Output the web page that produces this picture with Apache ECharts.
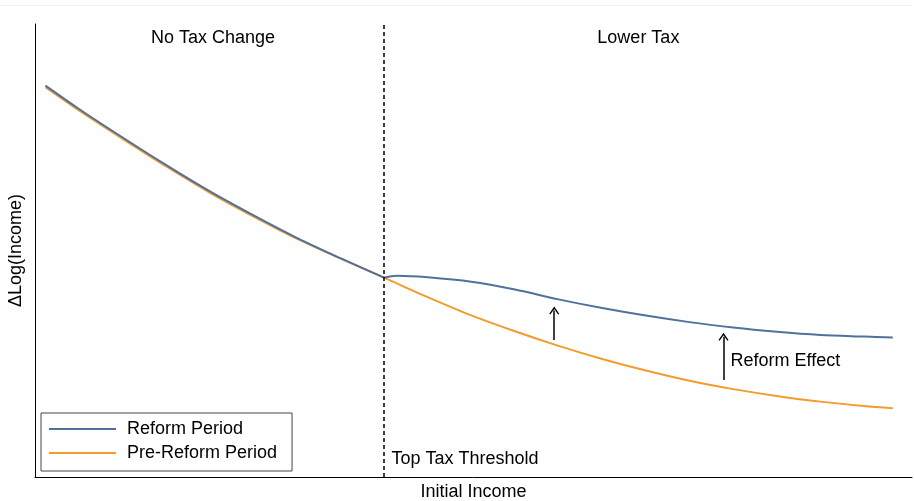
<!DOCTYPE html>
<html>
<head>
<meta charset="utf-8">
<script src="https://cdn.jsdelivr.net/npm/echarts@6/dist/echarts.min.js"></script>
<style>
  html, body { margin: 0; padding: 0; background: #fff; }
  #topline { position: absolute; left: 0; top: 5px; width: 912px; height: 1px; background: #eef1f2; }
  #chart { width: 914px; height: 501px; }
</style>
</head>
<body>
<div id="topline"></div>
<div id="chart"></div>
<script>
// Reform period: pre-threshold and post-threshold segments
const xReformLeft = [1.2, 5, 10, 15, 20, 25, 30, 35, 40];
const reformLeft = [86.4, 81.3, 75.0, 68.9, 63.1, 57.8, 52.8, 48.3, 44.0];
const xReformRight = [40, 41.5, 45, 50, 55, 60, 65, 70, 75, 80, 85, 90, 95, 98.3];
const reformRight = [44.0, 44.42, 44.08, 43.09, 41.37, 39.21, 37.29, 35.63, 34.19, 32.98, 32.05, 31.35, 30.99, 30.77];
// Pre-reform period
const xPre = [1.2, 5, 10, 15, 20, 25, 30, 35, 40, 45, 50, 55, 60, 65, 70, 75, 80, 85, 90, 95, 98.3];
const preReform = [86.05, 80.97, 74.7, 68.6, 62.8, 57.55, 52.6, 48.2, 44.0, 39.7, 35.67, 32.16, 28.94, 26.05, 23.49, 21.24, 19.40, 17.90, 16.64, 15.67, 15.19];

const threshold = 40;
const legendNames = ['Reform Period', 'Pre-Reform Period'];
const regionLabels = ['No Tax Change', 'Lower Tax'];
const regionLabelX = [20.45, 69.2];
const regionLabelY = 96.8;
const thresholdLabel = 'Top Tax Threshold';
const effectLabel = 'Reform Effect';
// arrows: [x, from, to]
const arrows = [[59.5, 30.24, 36.75], [78.9, 21.41, 30.95]];

const FONT = 'Liberation Sans, Arial, sans-serif';
const FS = 18;
const TXT = '#000';
const BLUE = '#50729a';
const ORANGE = '#f39b2b';

const zip = (xs, ys) => xs.map((x, i) => [x, ys[i]]);
const chevron = 'path://M5,0 L10,7.2 L8.9,8 L5,2.4 L1.1,8 L0,7.2 Z';
const lbl = (text, align) => ({
  show: true, formatter: text, position: [0, 0], align: align, verticalAlign: 'middle',
  fontSize: FS, color: TXT, fontFamily: FONT,
  textBorderWidth: 0, textBorderColor: 'transparent', textShadowBlur: 0
});

const chart = echarts.init(document.getElementById('chart'), null, { renderer: 'canvas' });
const option = {
  animation: false,
  textStyle: { fontFamily: FONT, color: TXT },
  grid: { left: 35, right: 2, top: 24, bottom: 24, containLabel: false, outerBoundsMode: 'none' },
  legend: {
    orient: 'vertical', left: 41, top: 413,
    padding: [7, 15, 9, 8],
    itemWidth: 67, itemHeight: 2, itemGap: 6,
    icon: 'rect',
    borderColor: '#444', borderWidth: 1,
    textStyle: { fontSize: FS, color: TXT, fontFamily: FONT, padding: [0, 0, 0, 6], lineHeight: 18 },
    data: legendNames
  },
  xAxis: {
    type: 'value', min: 0, max: 100.5,
    name: 'Initial Income', nameLocation: 'middle', nameGap: 6,
    nameTextStyle: { fontSize: FS, color: TXT, fontFamily: FONT, verticalAlign: 'top' },
    axisLine: { show: true, lineStyle: { color: '#000', width: 1 } },
    axisTick: { show: false }, axisLabel: { show: false }, splitLine: { show: false }
  },
  yAxis: {
    type: 'value', min: 0, max: 100,
    name: 'ΔLog(Income)', nameLocation: 'middle', nameGap: 10, nameRotate: 90,
    nameTextStyle: { fontSize: FS, color: TXT, fontFamily: FONT },
    axisLine: { show: true, lineStyle: { color: '#000', width: 1 } },
    axisTick: { show: false }, axisLabel: { show: false }, splitLine: { show: false }
  },
  series: [
    {
      name: legendNames[1], type: 'line', data: zip(xPre, preReform),
      smooth: 0.3, showSymbol: false, symbol: 'none',
      lineStyle: { color: ORANGE, width: 2 }, itemStyle: { color: ORANGE }, z: 2
    },
    {
      name: legendNames[0], type: 'line', data: zip(xReformLeft, reformLeft),
      smooth: 0.3, showSymbol: false, symbol: 'none',
      lineStyle: { color: BLUE, width: 2 }, itemStyle: { color: BLUE }, z: 3
    },
    {
      name: legendNames[0], type: 'line', data: zip(xReformRight, reformRight),
      smooth: 0.3, showSymbol: false, symbol: 'none',
      lineStyle: { color: BLUE, width: 2 }, itemStyle: { color: BLUE }, z: 3
    },
    {
      name: 'annotations', type: 'scatter', symbolSize: 1, silent: true, z: 5,
      itemStyle: { color: 'rgba(0,0,0,0)', opacity: 1 },
      data: [
        { value: [regionLabelX[0], regionLabelY], label: lbl(regionLabels[0], 'center') },
        { value: [regionLabelX[1], regionLabelY], label: lbl(regionLabels[1], 'center') },
        { value: [40.9, 3.8], label: lbl(thresholdLabel, 'left') },
        { value: [79.76, 25.4], label: lbl(effectLabel, 'left') }
      ],
      emphasis: { disabled: true },
      markLine: {
        silent: true, animation: false,
        symbol: ['none', 'none'],
        label: { show: false },
        lineStyle: { color: '#000', type: [4, 3], width: 1.5 },
        data: [ { xAxis: threshold } ]
      }
    },
    {
      name: 'arrows', type: 'scatter', data: [], silent: true, z: 6,
      markLine: {
        silent: true, animation: false,
        symbol: ['none', chevron], symbolSize: [10, 8],
        label: { show: false },
        lineStyle: { color: '#000', type: 'solid', width: 1.5 },
        data: arrows.map(a => [{ coord: [a[0], a[1]] }, { coord: [a[0], a[2]] }])
      }
    }
  ]
};
chart.setOption(option);
</script>
</body>
</html>
